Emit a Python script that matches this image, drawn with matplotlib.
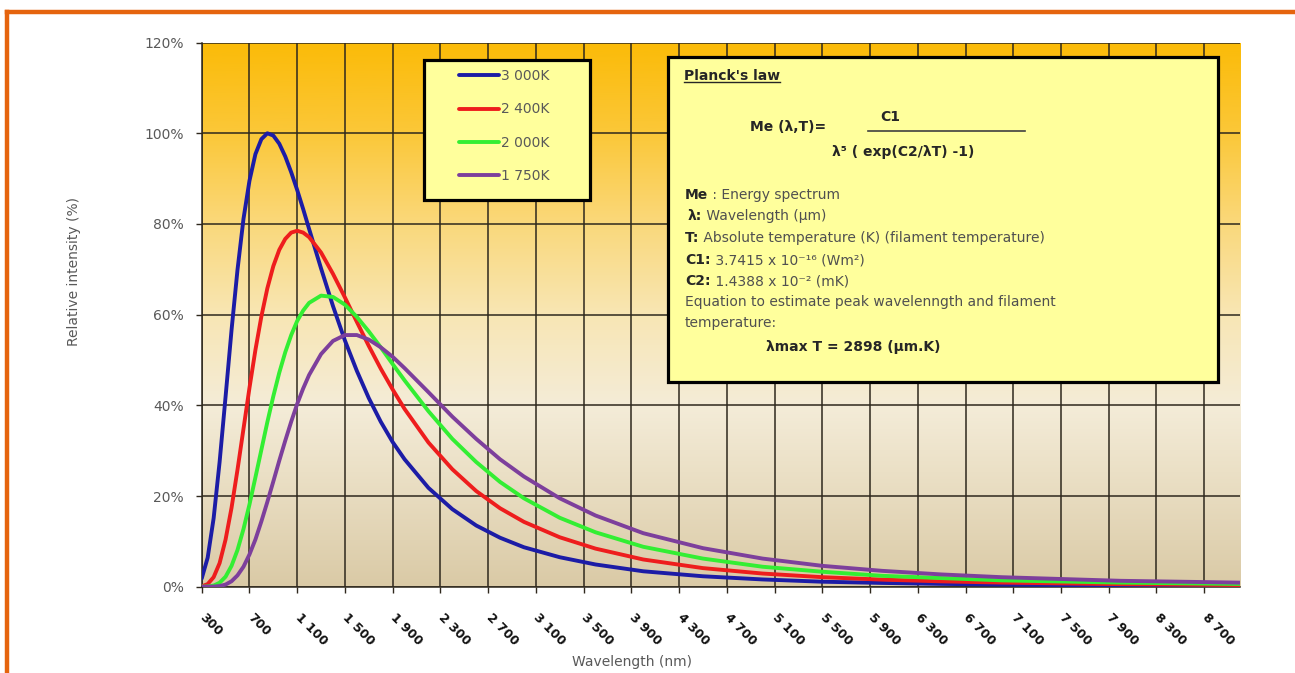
import numpy as np
import matplotlib
matplotlib.use("Agg")
import matplotlib.pyplot as plt
from matplotlib.colors import LinearSegmentedColormap
from matplotlib.patches import Rectangle
from matplotlib.lines import Line2D

# ---- data (relative intensity in %) ----
wavelength = [300, 350, 400, 450, 500, 550, 600, 650, 700, 750, 800, 850, 900, 950,
              1000, 1050, 1100, 1150, 1200, 1300, 1400, 1500, 1600, 1700, 1800, 1900,
              2000, 2200, 2400, 2600, 2800, 3000, 3300, 3600, 4000, 4500, 5000, 5500,
              6000, 6500, 7000, 8000, 9000]

k3000 = [1.8, 6.4, 15.1, 27.5, 41.9, 56.6, 69.9, 81.1, 89.5, 95.4, 98.7, 100.0, 99.5, 97.7,
         94.9, 91.4, 87.5, 83.3, 78.9, 70.2, 61.9, 54.3, 47.6, 41.6, 36.4, 31.9,
         28.1, 21.8, 17.1, 13.5, 10.8, 8.7, 6.5, 4.9, 3.4, 2.3, 1.6, 1.1,
         0.83, 0.62, 0.47, 0.29, 0.19]

k2400 = [0.09, 0.57, 2.1, 5.2, 10.4, 17.4, 25.8, 34.8, 43.8, 52.2, 59.6, 65.8, 70.7, 74.3,
         76.7, 78.1, 78.5, 78.1, 77.1, 73.7, 69.0, 63.8, 58.4, 53.1, 48.1, 43.5,
         39.2, 31.8, 25.9, 21.1, 17.3, 14.3, 10.9, 8.4, 6.0, 4.1, 2.9, 2.1,
         1.56, 1.18, 0.91, 0.56, 0.36]

k2000 = [0.0, 0.05, 0.25, 0.87, 2.2, 4.6, 8.1, 12.7, 18.1, 24.1, 30.2, 36.3, 42.0, 47.2,
         51.7, 55.5, 58.6, 60.9, 62.6, 64.2, 63.9, 62.2, 59.5, 56.3, 52.8, 49.1,
         45.5, 38.7, 32.6, 27.5, 23.1, 19.5, 15.2, 12.0, 8.8, 6.2, 4.4, 3.3,
         2.4, 1.9, 1.4, 0.9, 0.6]

k1750 = [0.0, 0.0, 0.03, 0.14, 0.47, 1.2, 2.5, 4.4, 7.1, 10.4, 14.4, 18.7, 23.2, 27.8,
         32.2, 36.4, 40.3, 43.7, 46.7, 51.3, 54.2, 55.5, 55.5, 54.5, 52.8, 50.7,
         48.2, 42.9, 37.5, 32.6, 28.1, 24.3, 19.5, 15.7, 11.8, 8.5, 6.2, 4.6,
         3.5, 2.7, 2.1, 1.3, 0.9]

series_labels = ["3 000K", "2 400K", "2 000K", "1 750K"]
series_colors = ["#1c1ca6", "#ee1d1d", "#33ee33", "#7d3f9c"]

x_ticks = [300, 700, 1100, 1500, 1900, 2300, 2700, 3100, 3500, 3900, 4300,
           4700, 5100, 5500, 5900, 6300, 6700, 7100, 7500, 7900, 8300, 8700]
x_tick_labels = ["300", "700", "1 100", "1 500", "1 900", "2 300", "2 700", "3 100",
                 "3 500", "3 900", "4 300", "4 700", "5 100", "5 500", "5 900", "6 300",
                 "6 700", "7 100", "7 500", "7 900", "8 300", "8 700"]
y_ticks = [0, 20, 40, 60, 80, 100, 120]
y_tick_labels = ["0%", "20%", "40%", "60%", "80%", "100%", "120%"]

W, H = 1295, 673


def fx(px):
    return px / W


def fy(py):
    return 1 - py / H


fig = plt.figure(figsize=(W / 100, H / 100), dpi=100)
fig.patch.set_facecolor("white")

# orange frame (top and left edges only visible)
fig.add_artist(Line2D([fx(7), fx(1295)], [fy(11.5), fy(11.5)], transform=fig.transFigure,
                      color="#e5640e", lw=3.2))
fig.add_artist(Line2D([fx(7), fx(7)], [fy(11.5), fy(673)], transform=fig.transFigure,
                      color="#e5640e", lw=3.2))

ax = fig.add_axes([fx(201.7), fy(586.7), fx(1240) - fx(201.7), fy(42.6) - fy(586.7)])

# gradient plot area
bg = LinearSegmentedColormap.from_list("bg", [
    (0.00, "#dacaa6"),
    (0.17, "#e8dcc0"),
    (0.33, "#f4ecd8"),
    (0.50, "#f8e6b4"),
    (0.67, "#fad87a"),
    (0.83, "#fbc83a"),
    (1.00, "#fbbb08"),
])
ax.imshow(np.linspace(0, 1, 256).reshape(-1, 1), extent=[300, 9000, 0, 120],
          origin="lower", aspect="auto", cmap=bg, zorder=0, interpolation="bicubic")

for vals, col, lab in zip([k3000, k2400, k2000, k1750], series_colors, series_labels):
    ax.plot(wavelength, vals, color=col, lw=2.8, label=lab, zorder=3,
            solid_capstyle="round", solid_joinstyle="round")

ax.set_xlim(300, 9000)
ax.set_ylim(0, 120)
ax.set_axisbelow(True)
ax.grid(True, color="#2e281d", lw=1.1)

ax.set_xticks(x_ticks)
ax.set_xticklabels(x_tick_labels, rotation=-45, ha="left", va="center",
                   rotation_mode="anchor", fontsize=9, fontweight="bold", color="#111111")
ax.set_yticks(y_ticks)
ax.set_yticklabels(y_tick_labels, fontsize=10, color="#595959")
ax.tick_params(axis="x", length=4.5, width=1, color="#2e281d", pad=16)
ax.tick_params(axis="y", length=4.5, width=1, color="#2e281d", pad=8.5)
for side in ["top", "right"]:
    ax.spines[side].set_visible(False)
for side in ["left", "bottom"]:
    ax.spines[side].set_color("#2e281d")
    ax.spines[side].set_linewidth(1.1)

fig.text(fx(632), fy(662), "Wavelength (nm)", ha="center", va="center",
         fontsize=10, color="#595959")
fig.text(fx(74), fy(272), "Relative intensity (%)", ha="center", va="center",
         rotation=90, fontsize=10, color="#595959")

# legend box
fig.add_artist(Rectangle((fx(424), fy(200)), fx(590) - fx(424), fy(60) - fy(200),
                         transform=fig.transFigure, facecolor="#ffff9c",
                         edgecolor="black", lw=2.3, zorder=4))
handles, labels = ax.get_legend_handles_labels()
leg = fig.legend(handles, labels, loc="upper left", bbox_to_anchor=(fx(459), fy(69)),
                 frameon=False, fontsize=10, labelcolor="#595959", handlelength=2.9,
                 handletextpad=0.15, labelspacing=1.4, borderpad=0, borderaxespad=0)
leg.set_zorder(6)

# Planck's law box
fig.add_artist(Rectangle((fx(668), fy(382)), fx(1218) - fx(668), fy(57) - fy(382),
                         transform=fig.transFigure, facecolor="#ffff9c",
                         edgecolor="black", lw=2.3, zorder=4))

renderer = fig.canvas.get_renderer()
dark = "#262626"
grey = "#505050"


def put_runs(x, y, runs):
    t = None
    for s, bold in runs:
        t = fig.text(fx(x), fy(y), s, fontsize=10, ha="left", va="center",
                     fontweight="bold" if bold else "normal",
                     color=dark if bold else grey, zorder=6)
        bb = t.get_window_extent(renderer)
        x = bb.x1
    return t


title = put_runs(684, 76, [("Planck's law", True)])
bb = title.get_window_extent(renderer)
fig.add_artist(Line2D([bb.x0 / W, bb.x1 / W], [(bb.y0 + 1) / H] * 2,
                      transform=fig.transFigure, color=dark, lw=1, zorder=6))

put_runs(750, 127, [("Me (λ,T)=", True)])
put_runs(880, 117, [("C1", True)])
fig.add_artist(Line2D([fx(868), fx(1025)], [fy(131), fy(131)], transform=fig.transFigure,
                      color="#404040", lw=1.2, zorder=6))
put_runs(832, 152, [("λ⁵ ( exp(C2/λT) -1)", True)])

put_runs(685, 195, [("Me", True), (" : Energy spectrum", False)])
put_runs(688, 216, [("λ:", True), (" Wavelength (µm)", False)])
put_runs(685, 238, [("T:", True), (" Absolute temperature (K) (filament temperature)", False)])
put_runs(685, 260, [("C1:", True), (" 3.7415 x 10⁻¹⁶ (Wm²)", False)])
put_runs(685, 281, [("C2:", True), (" 1.4388 x 10⁻² (mK)", False)])
put_runs(685, 302, [("Equation to estimate peak wavelenngth and filament", False)])
put_runs(685, 323, [("temperature:", False)])
put_runs(766, 347, [("λmax T = 2898 (µm.K)", True)])

fig.savefig("out.png", dpi=100)
